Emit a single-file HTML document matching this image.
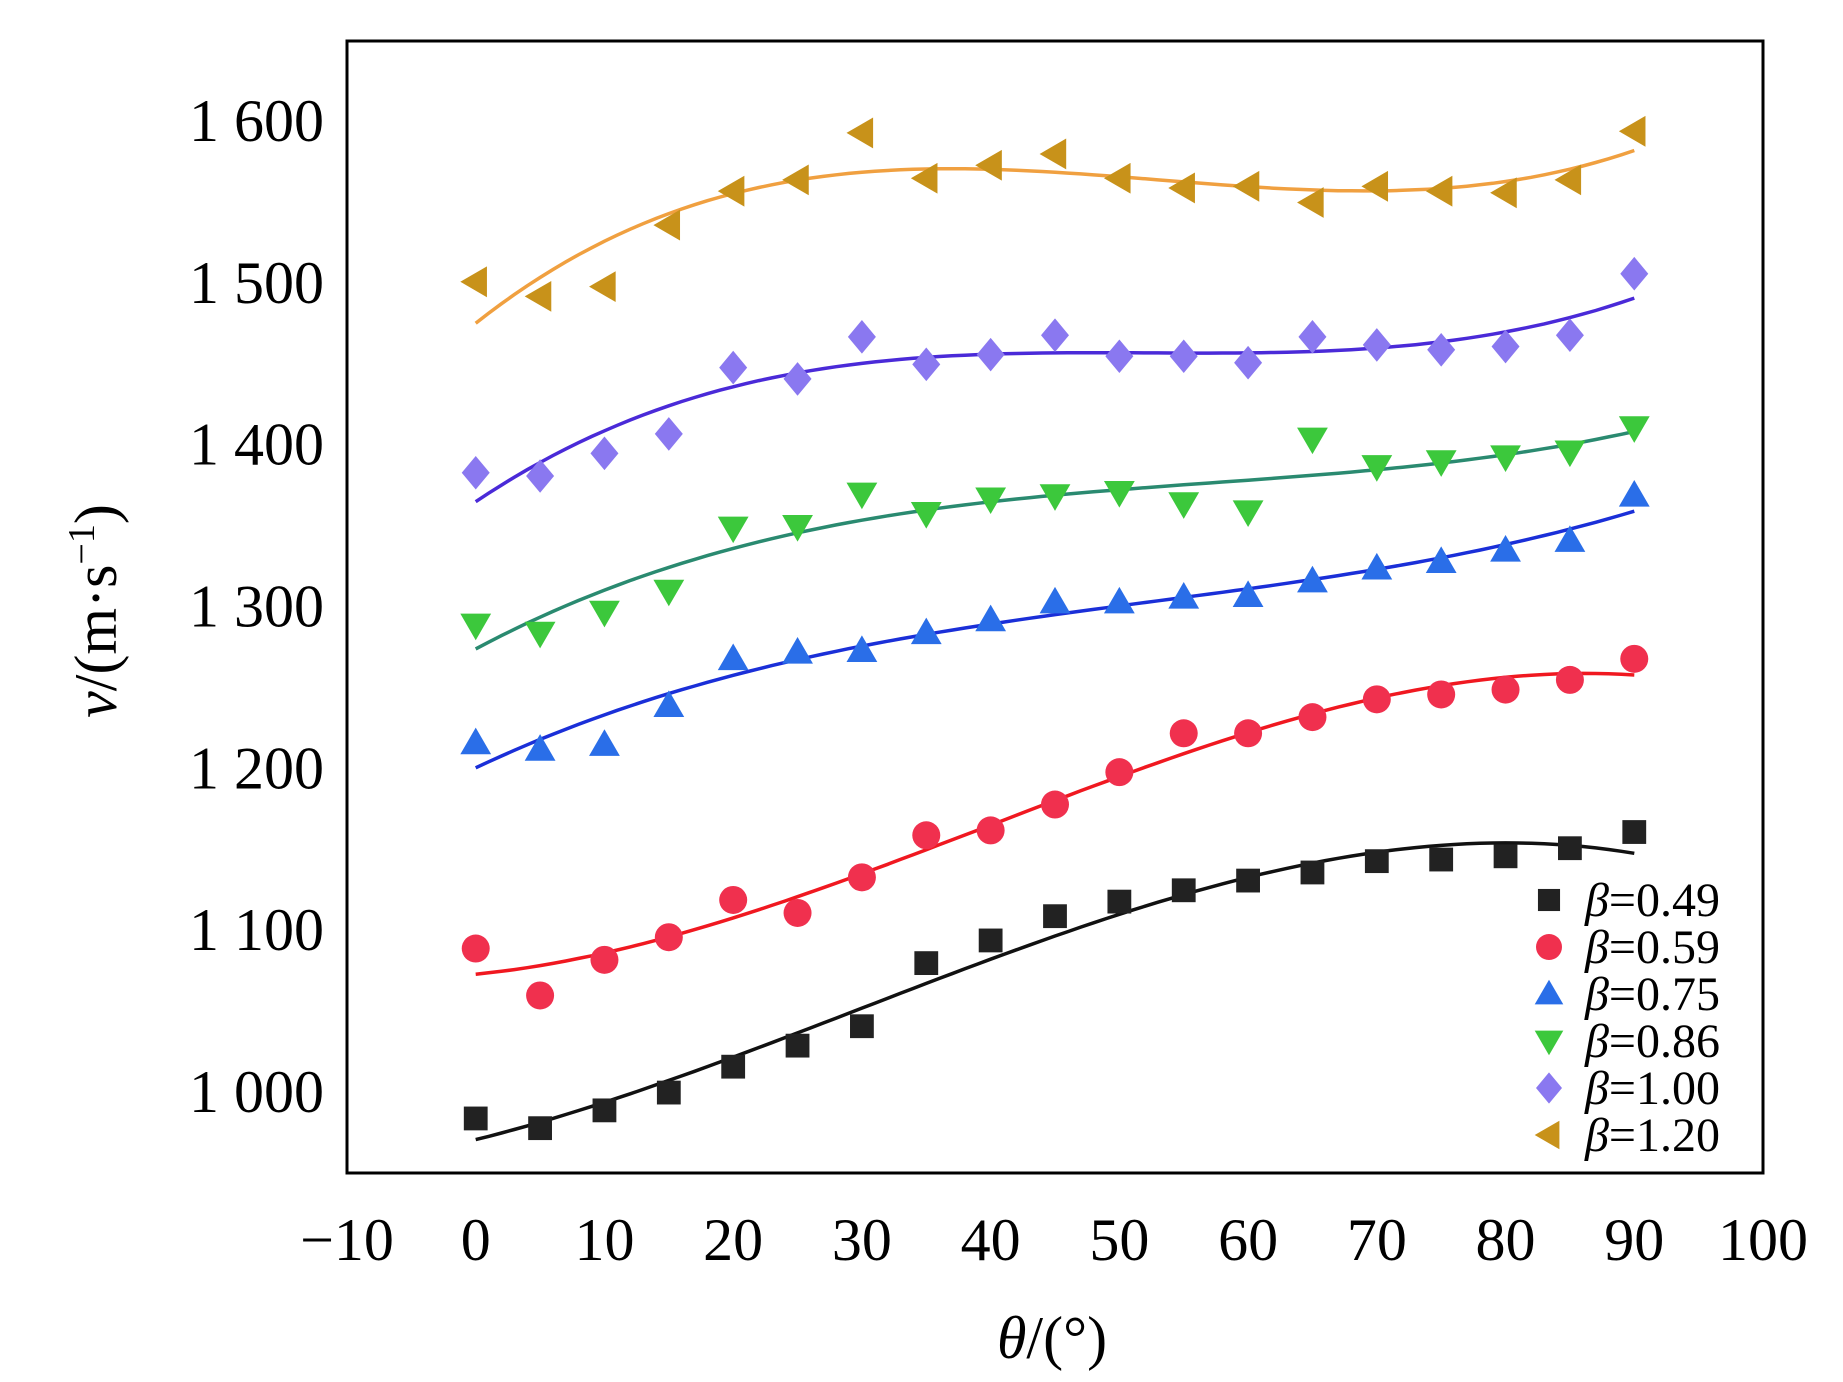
<!DOCTYPE html>
<html><head><meta charset="utf-8"><style>
html,body{margin:0;padding:0;background:#fff;}
svg{display:block;font-family:"Liberation Serif",serif;}
</style></head><body>
<svg id="chart" width="1843" height="1382" viewBox="0 0 1843 1382" xmlns="http://www.w3.org/2000/svg"></svg>
<script>
const categories=[0,5,10,15,20,25,30,35,40,45,50,55,60,65,70,75,80,85,90];
const seriesNames=["β=0.49","β=0.59","β=0.75","β=0.86","β=1.00","β=1.20"];
const s049=[983,977,988,999,1015,1028,1040,1079,1093,1108,1117,1124,1130,1135,1142,1143,1145,1150,1160];
const s059=[1088,1059,1081,1095,1118,1110,1132,1158,1161,1177,1197,1221,1221,1231,1242,1245,1248,1254,1267];
const s075=[1215,1211,1214,1238,1267,1271,1272,1283,1291,1302,1302,1305,1306,1315,1323,1327,1334,1340,1368];
const s086=[1288,1283,1296,1309,1348,1349,1369,1357,1366,1368,1370,1363,1358,1403,1386,1389,1392,1395,1410];
const s100=[1382,1380,1394,1406,1447,1440,1466,1449,1455,1467,1454,1454,1450,1466,1461,1458,1460,1467,1505];
const s120=[1500,1491,1497,1535,1556,1563,1592,1564,1572,1579,1564,1558,1559,1549,1559,1556,1555,1563,1593];
const xTicks=[-10,0,10,20,30,40,50,60,70,80,90,100];
const xTickLabels=["\u221210","0","10","20","30","40","50","60","70","80","90","100"];
const yTicks=[1000,1100,1200,1300,1400,1500,1600];
const yTickLabels=["1 000","1 100","1 200","1 300","1 400","1 500","1 600"];

const L=347,R=1763,T=41,B=1173;
const xMin=-10,xMax=100,yMin=949.3,yMax=1648.8;
const xs=v=>L+(v-xMin)/(xMax-xMin)*(R-L);
const ys=v=>B-(v-yMin)/(yMax-yMin)*(B-T);
const NS="http://www.w3.org/2000/svg";
const svg=document.getElementById('chart');
function mk(tag,attrs,parent){const e=document.createElementNS(NS,tag);for(const k in attrs)e.setAttribute(k,attrs[k]);(parent||svg).appendChild(e);return e;}

function polyfit(x,y,deg){
  const n=deg+1;const A=[];for(let i=0;i<n;i++){A.push(new Array(n+1).fill(0));}
  const xn=x.map(v=>v/90);
  for(let k=0;k<x.length;k++){for(let i=0;i<n;i++){for(let j=0;j<n;j++)A[i][j]+=Math.pow(xn[k],i+j);A[i][n]+=y[k]*Math.pow(xn[k],i);}}
  for(let i=0;i<n;i++){let p=i;for(let r=i+1;r<n;r++)if(Math.abs(A[r][i])>Math.abs(A[p][i]))p=r;[A[i],A[p]]=[A[p],A[i]];
    for(let r=0;r<n;r++){if(r===i)continue;const f=A[r][i]/A[i][i];for(let c=i;c<=n;c++)A[r][c]-=f*A[i][c];}}
  const c=A.map((row,i)=>row[n]/row[i]);
  return t=>{const u=t/90;let s=0;for(let i=0;i<n;i++)s+=c[i]*Math.pow(u,i);return s;};
}

const frame=mk('rect',{x:L,y:T,width:R-L,height:B-T,fill:'none',stroke:'#000','stroke-width':3});



xTicks.forEach((t,i)=>{
  const tx=mk('text',{x:xs(t),y:1260,'font-size':60,'text-anchor':'middle',fill:'#000'});
  tx.textContent=xTickLabels[i];
  
  
});
yTicks.forEach((t,i)=>{
  const tx=mk('text',{x:324,y:ys(t)+21,'font-size':60,'text-anchor':'end',fill:'#000'});
  tx.textContent=yTickLabels[i];
  
  
});

const xt=mk('text',{x:1052,y:1358,'font-size':60,'text-anchor':'middle',fill:'#000'});
xt.innerHTML='<tspan font-style="italic">θ</tspan>/(°)';


const yt=mk('text',{x:0,y:0,'font-size':60,'text-anchor':'middle',fill:'#000',transform:'translate(116,611) rotate(-90)'});
yt.innerHTML='<tspan font-style="italic">v</tspan>/(m·s<tspan dy="-22" font-size="38">−1</tspan><tspan dy="22">)</tspan>';



const seriesData=[s049,s059,s075,s086,s100,s120];
const ptColors=['#222222','#f0304e','#2a6ee8','#3cc83c','#8a78f0','#c8921a'];
const lnColors=['#111111','#f01820','#1a2fd8','#2a8a70','#4a2ad8','#f0a040'];
const shapes=['square','circle','up','down','diamond','left'];
const seriesKeys=['b049','b059','b075','b086','b100','b120'];

function marker(shape,cx,cy,r,color,parent){
  let e;
  if(shape==='square')e=mk('rect',{x:cx-r*0.85,y:cy-r*0.85,width:r*1.7,height:r*1.7,fill:color},parent);
  else if(shape==='circle')e=mk('circle',{cx:cx,cy:cy,r:r,fill:color},parent);
  else if(shape==='up')e=mk('polygon',{points:`${cx},${cy-r*1.1} ${cx+r*1.1},${cy+r*0.8} ${cx-r*1.1},${cy+r*0.8}`,fill:color},parent);
  else if(shape==='down')e=mk('polygon',{points:`${cx},${cy+r*1.1} ${cx+r*1.1},${cy-r*0.8} ${cx-r*1.1},${cy-r*0.8}`,fill:color},parent);
  else if(shape==='diamond')e=mk('polygon',{points:`${cx},${cy-r*1.2} ${cx+r*1.0},${cy} ${cx},${cy+r*1.2} ${cx-r*1.0},${cy}`,fill:color},parent);
  else e=mk('polygon',{points:`${cx-r*1.1},${cy} ${cx+r*0.8},${cy-r*1.1} ${cx+r*0.8},${cy+r*1.1}`,fill:color},parent);
  return e;
}

seriesData.forEach((data,si)=>{
  const g=mk('g',{});
  
  
  const f=polyfit(categories,data,3);
  let d='';
  for(let t=0;t<=90;t+=1){d+=(t===0?'M':'L')+xs(t).toFixed(1)+','+ys(f(t)).toFixed(1);}
  const p=mk('path',{d:d,fill:'none',stroke:lnColors[si],'stroke-width':3.5},g);
  
  
  data.forEach((v,i)=>{
    const m=marker(shapes[si],xs(categories[i]),ys(v),14,ptColors[si],g);
    
    
  });
});

const lg=mk('g',{});


seriesNames.forEach((n,i)=>{
  const y=900+i*47;
  const m=marker(shapes[i],1549,y,13,ptColors[i],lg);
  
  
  const t=mk('text',{x:1585,y:y+16,'font-size':48,fill:'#000'},lg);
  t.innerHTML='<tspan font-style="italic">β</tspan>'+n.slice(1);
  
  
});
</script>
</body></html>
